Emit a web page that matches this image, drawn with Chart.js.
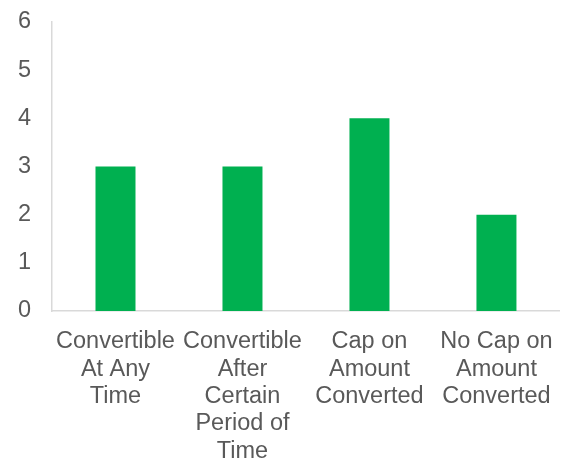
<!DOCTYPE html>
<html>
<head>
<meta charset="utf-8">
<script src="https://cdn.jsdelivr.net/npm/chart.js@4"></script>
<style>
  html, body { margin: 0; padding: 0; background: #fff; }
  #wrap { width: 571px; height: 458px; }
</style>
</head>
<body>
<div id="wrap"><canvas id="chart" width="571" height="458"></canvas></div>
<script>
const categories = [
  ['Convertible', 'At Any', 'Time'],
  ['Convertible', 'After', 'Certain', 'Period of', 'Time'],
  ['Cap on', 'Amount', 'Converted'],
  ['No Cap on', 'Amount', 'Converted']
];
const counts = [3, 3, 4, 2];
const yTicks = [0, 1, 2, 3, 4, 5, 6];

const axisColor = '#d9d9d9';
const textColor = '#595959';
const font = { family: '"Liberation Sans", Arial, sans-serif', size: 23.5, lineHeight: 1.165 };

new Chart(document.getElementById('chart').getContext('2d'), {
  type: 'bar',
  data: {
    labels: categories,
    datasets: [{
      data: counts,
      backgroundColor: '#00b050',
      categoryPercentage: 1,
      barPercentage: 0.315
    }]
  },
  options: {
    responsive: false,
    animation: false,
    layout: { padding: { top: 22, right: 11, left: 0, bottom: 0 } },
    plugins: { legend: { display: false }, tooltip: { enabled: false } },
    scales: {
      x: {
        grid: { display: false, drawTicks: false },
        border: { display: true, color: axisColor, width: 1.5 },
        ticks: { color: textColor, font, padding: 17, maxRotation: 0, autoSkip: false },
        afterFit: (s) => { s.height = 147; }
      },
      y: {
        min: 0,
        max: 6,
        afterBuildTicks: (s) => { s.ticks = yTicks.map(v => ({ value: v })); },
        grid: { display: false, drawTicks: false },
        border: { display: true, color: axisColor, width: 1.5 },
        ticks: { color: textColor, font, padding: 21 },
        // keep the label overhang from pushing the plot area down
        afterFit: (s) => { s.width = 52; s.paddingTop = 0; s.paddingBottom = 0; }
      }
    }
  }
});
</script>
</body>
</html>
